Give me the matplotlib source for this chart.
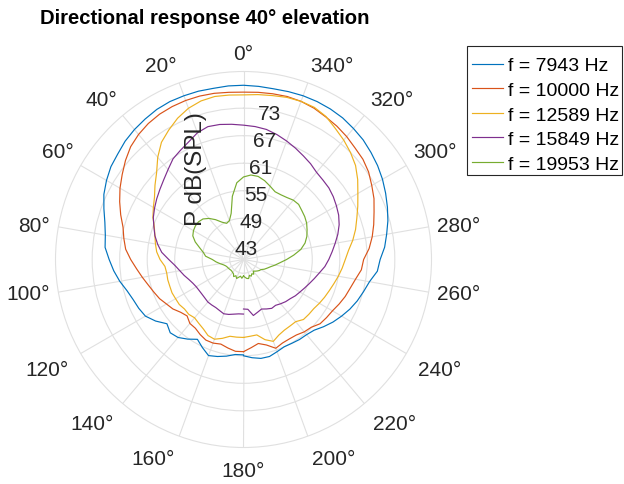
import numpy as np
import matplotlib
matplotlib.use("Agg")
import matplotlib.pyplot as plt
from matplotlib.transforms import ScaledTranslation
from matplotlib.patches import Rectangle

plt.rcParams['font.family'] = ['Liberation Sans', 'DejaVu Sans']

# ---- data (angle in degrees, counter-clockwise from top) ----
angles_deg = np.arange(-180, 181, 5)

series_labels = ["f = 7943 Hz", "f = 10000 Hz", "f = 12589 Hz", "f = 15849 Hz", "f = 19953 Hz"]

spl_7943 = [61.0, 61.5, 61.9, 61.9, 61.4, 61.0, 61.1, 61.3, 61.4, 61.8,
            62.8, 63.8, 64.7, 65.6, 66.4, 67.1, 67.9, 69.3, 69.8, 70.9,
            71.7, 72.6, 73.4, 74.2, 75.0, 75.7, 76.3, 76.9, 77.3, 77.7,
            77.9, 78.0, 78.0, 77.9, 77.8, 77.9, 78.0, 78.0, 77.9, 78.0,
            78.0, 78.0, 77.8, 77.4, 77.0, 76.5, 75.8, 75.3, 74.5, 73.6,
            72.4, 71.3, 70.6, 70.3, 69.3, 68.4, 67.4, 66.3, 65.6, 65.2,
            64.7, 63.4, 61.8, 62.6, 62.2, 61.2, 60.1, 61.2, 62.3, 61.9,
            61.4, 60.8, 60.8]

spl_10000 = [60.1, 59.3, 58.6, 59.3, 60.6, 60.1, 60.0, 60.1, 60.6, 60.9,
             61.8, 62.1, 62.4, 63.0, 63.6, 64.1, 64.8, 65.8, 66.2, 67.5,
             68.5, 69.4, 70.3, 71.4, 72.3, 73.3, 74.0, 74.4, 75.0, 75.5,
             75.9, 76.4, 76.7, 76.8, 76.7, 76.6, 76.5, 76.6, 76.8, 76.9,
             76.9, 76.8, 76.6, 76.2, 75.6, 74.8, 73.6, 72.3, 71.1, 69.8,
             68.5, 67.2, 66.5, 65.8, 64.6, 63.4, 62.4, 61.5, 60.8, 60.2,
             59.4, 58.8, 57.9, 57.4, 58.2, 58.3, 58.9, 59.4, 59.4, 59.1,
             59.6, 60.1, 60.1]

spl_12589 = [57.0, 56.8, 56.7, 58.1, 59.0, 58.2, 57.8, 57.7, 57.7, 58.5,
             58.6, 58.7, 59.1, 59.5, 59.9, 60.4, 61.0, 61.6, 62.2, 63.0,
             64.2, 65.3, 66.3, 67.5, 68.8, 70.4, 71.9, 73.0, 74.0, 74.9,
             76.0, 76.6, 76.7, 76.6, 76.3, 76.1, 75.9, 76.0, 76.1, 75.8,
             75.1, 74.0, 72.6, 71.2, 69.1, 66.8, 65.2, 63.7, 62.7, 61.8,
             60.7, 60.0, 59.5, 59.0, 58.2, 57.2, 57.0, 57.1, 57.1, 57.2,
             57.1, 57.1, 56.8, 56.9, 56.6, 57.0, 57.5, 58.3, 58.5, 57.8,
             57.0, 57.0, 57.0]

spl_15849 = [50.8, 50.9, 52.4, 51.9, 51.5, 51.9, 52.3, 52.2, 52.6, 53.0,
             53.3, 53.8, 54.2, 54.7, 55.3, 56.0, 56.8, 57.8, 58.6, 59.4,
             60.3, 61.3, 62.2, 62.9, 63.4, 63.9, 64.3, 64.5, 64.8, 65.5,
             66.1, 66.8, 67.5, 68.2, 68.8, 69.1, 69.3, 69.6, 69.9, 70.0,
             69.4, 68.3, 67.5, 66.8, 65.6, 64.6, 63.8, 63.1, 62.4, 61.7,
             60.8, 60.0, 59.0, 57.9, 56.3, 55.0, 54.1, 53.4, 52.7, 52.2,
             51.9, 51.8, 51.8, 51.9, 52.1, 52.1, 52.1, 52.3, 52.6, 52.4,
             52.1, 51.9, 51.9]

spl_19953 = [43.6, 43.9, 44.2, 44.3, 43.7, 44.0, 43.6, 43.9, 43.3, 43.6,
             43.9, 44.2, 44.4, 45.0, 45.5, 46.1, 47.0, 48.0, 49.4, 51.0,
             52.7, 53.9, 54.7, 55.3, 55.9, 56.3, 56.6, 57.0, 56.9, 56.5,
             56.3, 56.3, 57.0, 57.8, 58.4, 58.5, 58.0, 56.8, 54.0, 50.4,
             49.0, 48.7, 49.4, 50.6, 51.7, 52.5, 52.8, 52.8, 52.6, 52.2,
             51.2, 49.9, 48.9, 48.3, 46.8, 46.0, 45.2, 44.5, 44.1, 43.9,
             43.8, 43.7, 43.6, 43.6, 43.7, 43.8, 44.3, 43.9, 44.4, 44.0,
             43.7, 44.1, 43.6]

series_values = [spl_7943, spl_10000, spl_12589, spl_15849, spl_19953]
series_colors = ['#0072BD', '#D95319', '#EDB120', '#7E2F8E', '#77AC30']

r_ticks = [43, 49, 55, 61, 67, 73]
r_limits = (40, 81)
theta_ticks = list(range(0, 360, 20))
theta_tick_labels = [f"{t}\u00b0" for t in theta_ticks]

# ---- figure ----
W, H = 624, 485
fig = plt.figure(figsize=(W / 100, H / 100), dpi=100)
cx, cy, R = 243.5, 260.5, 188.0
ax = fig.add_axes([(cx - R) / W, (H - cy - R) / H, 2 * R / W, 2 * R / H],
                  projection='polar')
ax.set_theta_zero_location('N')
ax.set_theta_direction(1)

grid_col = '#e0e0e0'
text_col = '#262626'

for vals, col, lab in zip(series_values, series_colors, series_labels):
    ax.plot(np.deg2rad(angles_deg), vals, color=col, lw=0.85, label=lab)

ax.set_ylim(*r_limits)
ax.set_yticks(r_ticks)
ax.set_yticklabels([])
ax.set_xticks(np.deg2rad(theta_ticks))
ax.set_xticklabels([])
ax.tick_params(axis='both', length=0)

ax.grid(True, color=grid_col, lw=0.8)
ax.spines['polar'].set_color(grid_col)
ax.spines['polar'].set_linewidth(0.8)

nudge = ScaledTranslation(0, -3 / 100, fig.dpi_scale_trans)

# radial tick labels along the 350 degree ray
for v in r_ticks:
    ax.text(np.deg2rad(350), v, str(v), ha='center', va='center', fontsize=15,
            color=text_col, transform=ax.transData + nudge)

# angular tick labels: anchored by the edge facing the circle (MATLAB-like)
px_per_unit = R / (r_limits[1] - r_limits[0])
for t, lab in zip(theta_ticks, theta_tick_labels):
    th = np.deg2rad(t)
    s, c = np.sin(th), np.cos(th)
    ha = 'center' if abs(s) < 0.01 else ('right' if s > 0 else 'left')
    va = 'bottom' if c > 0.3 else ('top' if c < -0.3 else 'center')
    ring_px = 196.5 + (5 if va == 'top' else 0)
    ax.text(th, r_limits[0] + ring_px / px_per_unit, lab, ha=ha, va=va,
            fontsize=15, color=text_col, clip_on=False)

# radial axis label
ax.text(np.deg2rad(27.7), 62.5, "P dB(SPL)", rotation=90, ha='center', va='center',
        fontsize=17.5, color=text_col)

fig.text(205 / W, 1 - 18 / H, "Directional response 40\u00b0 elevation",
         ha='center', va='center', fontsize=14.6, fontweight='bold', color='black')

# legend (entries) + box drawn to match the reference frame
leg = ax.legend(loc='upper left', bbox_to_anchor=(472 / W, 1 - 57.8 / H),
                bbox_transform=fig.transFigure, borderaxespad=0, fontsize=14,
                handlelength=1.6, handletextpad=0.26, labelspacing=0.36,
                borderpad=0, frameon=False)
frame = Rectangle((467 / W, 1 - 176 / H), 155 / W, 129 / H, transform=fig.transFigure,
                  facecolor='none', edgecolor='#262626', lw=0.8)
fig.patches.append(frame)

fig.savefig("out.png", dpi=100)
